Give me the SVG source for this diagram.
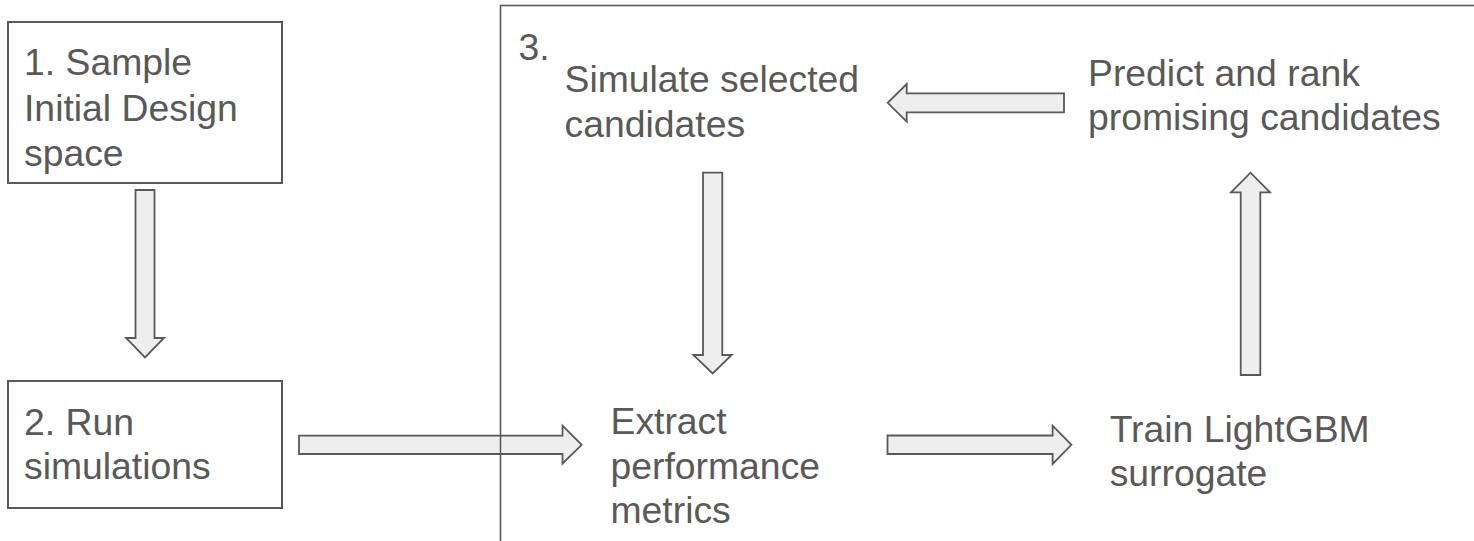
<svg xmlns="http://www.w3.org/2000/svg" width="1474" height="541" viewBox="0 0 1474 541">
<style>
.box{fill:#ffffff;stroke:#595959;stroke-width:2}
.frame{fill:none;stroke:#595959;stroke-width:1.6}
.arr{fill:#eeeeee;stroke:#595959;stroke-width:1.8;stroke-linejoin:miter}
text{font-family:"Liberation Sans",Arial,sans-serif;font-size:37.33px;fill:#595959}
</style>
<rect width="1474" height="541" fill="#ffffff"/>
<g id="node-sample">
<rect class="box" x="8" y="22" width="274" height="161"/>
<text x="24" y="75">1. Sample</text>
<text x="24" y="121">Initial Design</text>
<text x="24" y="166">space</text>
</g>
<g id="node-run">
<rect class="box" x="8" y="381" width="274" height="127"/>
<text x="24" y="435">2. Run</text>
<text x="24" y="479">simulations</text>
</g>
<g id="node-simulate">
<text x="564.5" y="91.7">Simulate selected</text>
<text x="564.5" y="136.7">candidates</text>
</g>
<g id="node-predict">
<text x="1088" y="86">Predict and rank</text>
<text x="1088" y="130">promising candidates</text>
</g>
<g id="node-extract">
<text x="610.5" y="434.3">Extract</text>
<text x="610.5" y="479.3">performance</text>
<text x="610.5" y="523.3">metrics</text>
</g>
<g id="node-train">
<text x="1109.7" y="441.7">Train LightGBM</text>
<text x="1109.7" y="486">surrogate</text>
</g>
<g id="connectors">
<path class="arr" d="M135.5,190 H154.5 V338 H164 L145,357.5 L126,338 H135.5 Z"/>
<path class="arr" d="M299,435.7 H562.5 V425.7 L581.7,444.8 L562.5,463.5 V454 H299 Z"/>
<path class="arr" d="M703,172.7 H722.3 V355 H731.7 L712.7,373.5 L693.3,355 H703 Z"/>
<path class="arr" d="M887.5,435.5 H1052.6 V425.7 L1071.4,444.8 L1052.6,464 V454 H887.5 Z"/>
<path class="arr" d="M1240.7,375 V192.3 H1231 L1250.5,172.7 L1270,192.3 H1260.3 V375 Z"/>
<path class="arr" d="M1064,93.3 H906.7 V84 L887.7,102.8 L906.7,121.7 V112.3 H1064 Z"/>
</g>
<g id="node-loop">
<rect class="frame" x="500.5" y="5.5" width="1000" height="560"/>
<text x="518.5" y="59.5">3.</text>
</g>
</svg>
